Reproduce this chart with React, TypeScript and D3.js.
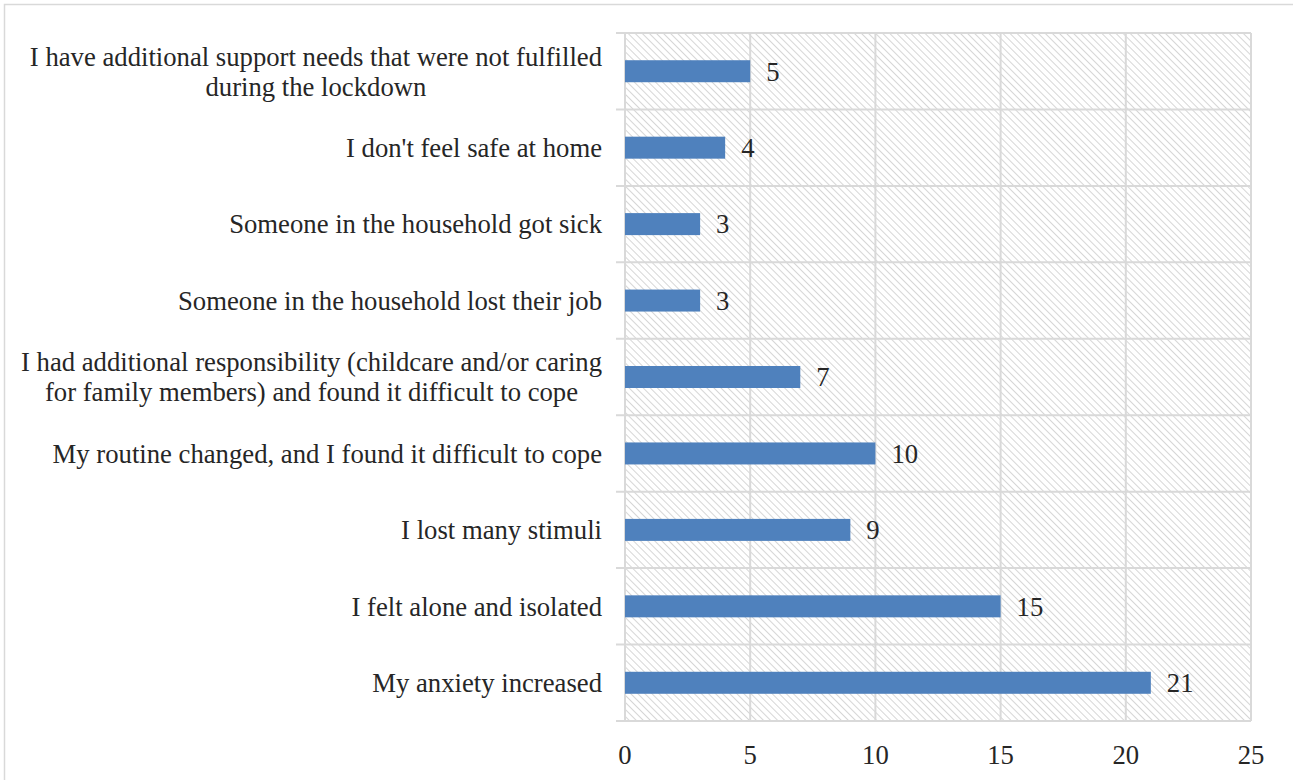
import React from "react";
import * as d3 from "d3";

// Categories listed top to bottom; multi-line labels split on "\n"
const categories: string[] = [
  "I have additional support needs that were not fulfilled\nduring the lockdown",
  "I don't feel safe at home",
  "Someone in the household got sick",
  "Someone in the household lost their job",
  "I had additional responsibility (childcare and/or caring\nfor family members) and found it difficult to cope",
  "My routine changed, and I found it difficult to cope",
  "I lost many stimuli",
  "I felt alone and isolated",
  "My anxiety increased",
];
const counts: number[] = [5, 4, 3, 3, 7, 10, 9, 15, 21];
const xTicks: number[] = [0, 5, 10, 15, 20, 25];

const W = 1293;
const H = 780;
const margin = { top: 33, right: 42, bottom: 59, left: 625 };
const FONT = "'Liberation Serif', 'Times New Roman', serif";
const TEXT = "#262626";
const GRID = "#d9d9d9";
const BAR = "#4f81bd";
const FONT_SIZE = 26.7;

// Width of a string in the label font, used to centre wrapped lines
function measure(s: string): number {
  const ctx = document.createElement("canvas").getContext("2d");
  if (!ctx) return s.length * FONT_SIZE * 0.45;
  ctx.font = `${FONT_SIZE}px ${FONT}`;
  return ctx.measureText(s).width;
}

export default function App() {
  const x = d3
    .scaleLinear()
    .domain([0, 25])
    .range([margin.left, W - margin.right]);
  const y = d3
    .scaleBand<number>()
    .domain(d3.range(categories.length))
    .range([margin.top, H - margin.bottom]);
  const barH = 22;
  const lineH = 30;
  const labelRight = x(0) - 23;

  return (
    <svg
      width={W}
      height={H}
      style={{ position: "absolute", left: 0, top: 0, background: "#fff" }}
    >
      <defs>
        <pattern
          id="hatch"
          width={5}
          height={5}
          patternUnits="userSpaceOnUse"
          patternTransform="rotate(-45)"
        >
          <rect width={5} height={5} fill="#fff" />
          <line x1={0} y1={0} x2={0} y2={5} stroke="#d6d6d6" strokeWidth={2} />
        </pattern>
      </defs>
      {/* outer frame */}
      <rect x={4.5} y={4.5} width={W + 10} height={H + 10} fill="none" stroke={GRID} strokeWidth={1.5} />

      {/* plot background */}
      <rect
        x={x(0)}
        y={margin.top}
        width={x(25) - x(0)}
        height={H - margin.bottom - margin.top}
        fill="url(#hatch)"
      />

      {/* vertical gridlines */}
      {xTicks.map((t) => (
        <line key={"v" + t} x1={x(t)} x2={x(t)} y1={margin.top} y2={H - margin.bottom} stroke={GRID} strokeWidth={2} />
      ))}
      {/* category separators, extending left as tick marks */}
      {d3.range(categories.length + 1).map((i) => {
        const yy = i < categories.length ? (y(i) as number) : H - margin.bottom;
        return <line key={"h" + i} x1={x(0) - 9} x2={x(25)} y1={yy} y2={yy} stroke={GRID} strokeWidth={2} />;
      })}

      {/* bars and value labels */}
      {counts.map((v, i) => {
        const cy = (y(i) as number) + y.bandwidth() / 2;
        return (
          <g key={"b" + i}>
            <rect x={x(0)} y={cy - barH / 2} width={x(v) - x(0)} height={barH} fill={BAR} />
            <text
              x={x(v) + 16}
              y={cy}
              dy="0.35em"
              fontFamily={FONT}
              fontSize={FONT_SIZE}
              fill={TEXT}
            >
              {v}
            </text>
          </g>
        );
      })}

      {/* category labels: single lines right-aligned, wrapped lines centred in their block */}
      {categories.map((c, i) => {
        const lines = c.split("\n");
        const cy = (y(i) as number) + y.bandwidth() / 2;
        const start = cy - ((lines.length - 1) * lineH) / 2;
        const multi = lines.length > 1;
        const blockW = multi ? Math.max(...lines.map(measure)) : 0;
        return (
          <text
            key={"c" + i}
            textAnchor={multi ? "middle" : "end"}
            fontFamily={FONT}
            fontSize={FONT_SIZE}
            fill={TEXT}
          >
            {lines.map((l, j) => (
              <tspan
                key={j}
                x={multi ? labelRight - blockW / 2 : labelRight}
                y={start + j * lineH}
                dy="0.35em"
              >
                {l}
              </tspan>
            ))}
          </text>
        );
      })}

      {/* x axis tick labels */}
      {xTicks.map((t) => (
        <text
          key={"t" + t}
          x={x(t)}
          y={H - margin.bottom + 34}
          dy="0.35em"
          textAnchor="middle"
          fontFamily={FONT}
          fontSize={FONT_SIZE}
          fill={TEXT}
        >
          {t}
        </text>
      ))}
    </svg>
  );
}
